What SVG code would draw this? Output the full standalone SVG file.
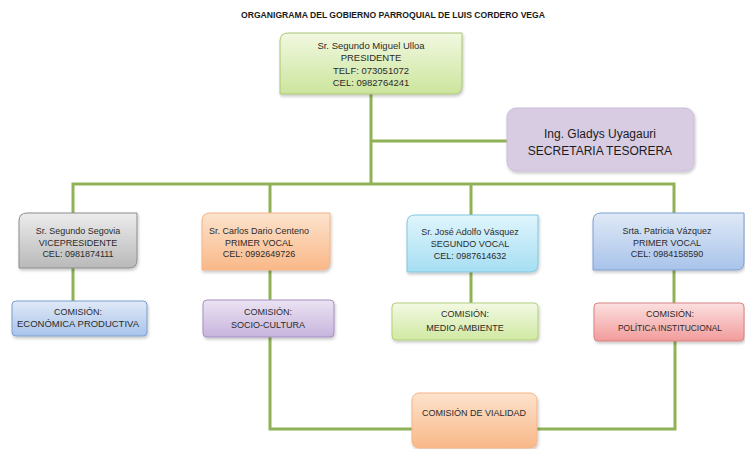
<svg xmlns="http://www.w3.org/2000/svg" width="745" height="449" viewBox="0 0 745 449">
<defs>
<linearGradient id="gGreen" x1="0" y1="0" x2="0" y2="1"><stop offset="0" stop-color="#f1f8e0"/><stop offset="1" stop-color="#cce59d"/></linearGradient>
<linearGradient id="gGray" x1="0" y1="0" x2="0" y2="1"><stop offset="0" stop-color="#ececec"/><stop offset="1" stop-color="#b9b9b9"/></linearGradient>
<linearGradient id="gOrange" x1="0" y1="0" x2="0" y2="1"><stop offset="0" stop-color="#fde3cd"/><stop offset="1" stop-color="#f9b888"/></linearGradient>
<linearGradient id="gCyan" x1="0" y1="0" x2="0" y2="1"><stop offset="0" stop-color="#e0f5fc"/><stop offset="1" stop-color="#a6def3"/></linearGradient>
<linearGradient id="gBlue" x1="0" y1="0" x2="0" y2="1"><stop offset="0" stop-color="#e0e9f7"/><stop offset="1" stop-color="#a8c3ea"/></linearGradient>
<linearGradient id="gPurple" x1="0" y1="0" x2="0" y2="1"><stop offset="0" stop-color="#ebe3f2"/><stop offset="1" stop-color="#c7b4dd"/></linearGradient>
<linearGradient id="gLime" x1="0" y1="0" x2="0" y2="1"><stop offset="0" stop-color="#f3f9e3"/><stop offset="1" stop-color="#d0e9a2"/></linearGradient>
<linearGradient id="gRed" x1="0" y1="0" x2="0" y2="1"><stop offset="0" stop-color="#fce0e0"/><stop offset="1" stop-color="#f19c9b"/></linearGradient>
<filter id="sh" x="-10%" y="-10%" width="125%" height="135%"><feDropShadow dx="1" dy="2" stdDeviation="1.5" flood-color="#000" flood-opacity="0.22"/></filter>
</defs>
<style>
text{font-family:"Liberation Sans",Arial,sans-serif;fill:#2b2b2b;text-anchor:middle}
.t{font-size:9px}
.tp{font-size:9.5px}
.ts{font-size:12px;fill:#1c1c1c}
.title{font-size:8.5px;font-weight:bold;fill:#1a1a1a}
.box{filter:url(#sh);stroke-width:1}
.conn{fill:none;stroke:#8fb257;stroke-width:3;stroke-linejoin:miter}
</style>
<rect width="745" height="449" fill="#ffffff"/>
<text class="title" x="393" y="18" textLength="304" lengthAdjust="spacingAndGlyphs">ORGANIGRAMA DEL GOBIERNO PARROQUIAL DE LUIS CORDERO VEGA</text>
<g id="connectors">
<path class="conn" d="M371,94 V184"/>
<path class="conn" d="M371,141 H507"/>
<path class="conn" d="M73,213 V184 H674 V213"/>
<path class="conn" d="M270,184 V213"/>
<path class="conn" d="M471,184 V215"/>
<path class="conn" d="M73,268 V301"/>
<path class="conn" d="M270,270 V300"/>
<path class="conn" d="M471,272 V303"/>
<path class="conn" d="M674,270 V303"/>
<path class="conn" d="M270,337 V429 H412"/>
<path class="conn" d="M537,429 H675 V341"/>
</g>
<g id="presidente">
<path class="box" d="M280,41 Q280,33 288,33 H462 V86 Q462,94 454,94 H280 Z" fill="url(#gGreen)" stroke="#a9c672"/>
<text class="tp" x="371" y="49">Sr. Segundo Miguel Ulloa</text>
<text class="tp" x="371" y="61">PRESIDENTE</text>
<text class="tp" x="371" y="73.5">TELF: 073051072</text>
<text class="tp" x="371" y="86">CEL: 0982764241</text>
</g>
<g id="secretaria">
<rect class="box" x="507" y="108" width="187" height="63" rx="9" fill="#d8cce3" stroke="#cbbcd9"/>
<text class="ts" x="600" y="137.5">Ing. Gladys Uyagauri</text>
<text class="ts" x="600" y="154.5">SECRETARIA TESORERA</text>
</g>
<g id="vicepresidente">
<path class="box" d="M19,221 Q19,213 27,213 H137 V260 Q137,268 129,268 H19 Z" fill="url(#gGray)" stroke="#8c8c8c"/>
<text class="t" x="78" y="234">Sr. Segundo Segovia</text>
<text class="t" x="78" y="245.5">VICEPRESIDENTE</text>
<text class="t" x="78" y="257">CEL: 0981874111</text>
</g>
<g id="vocal1">
<path class="box" d="M202,221 Q202,213 210,213 H330 V262 Q330,270 322,270 H202 Z" fill="url(#gOrange)" stroke="#f5b487"/>
<text class="t" x="259" y="234">Sr. Carlos Dario Centeno</text>
<text class="t" x="259" y="245.5">PRIMER VOCAL</text>
<text class="t" x="259" y="257">CEL: 0992649726</text>
</g>
<g id="vocal2">
<path class="box" d="M407,223 Q407,215 415,215 H538 V264 Q538,272 530,272 H407 Z" fill="url(#gCyan)" stroke="#7fc8de"/>
<text class="t" x="470" y="234.5">Sr. José Adolfo Vásquez</text>
<text class="t" x="470" y="247">SEGUNDO VOCAL</text>
<text class="t" x="470" y="259">CEL: 0987614632</text>
</g>
<g id="vocal3">
<path class="box" d="M593,221 Q593,213 601,213 H744 V262 Q744,270 736,270 H593 Z" fill="url(#gBlue)" stroke="#7c9fd0"/>
<text class="t" x="667" y="234">Srta. Patricia Vázquez</text>
<text class="t" x="667" y="245.5">PRIMER VOCAL</text>
<text class="t" x="667" y="257">CEL: 0984158590</text>
</g>
<g id="comision-economica">
<rect class="box" x="12" y="301" width="135" height="35" rx="4" fill="url(#gBlue)" stroke="#7c9fd0"/>
<text class="t" x="78" y="315">COMISIÓN:</text>
<text class="t" x="78" y="327" textLength="122" lengthAdjust="spacingAndGlyphs">ECONÓMICA PRODUCTIVA</text>
</g>
<g id="comision-socio">
<rect class="box" x="203" y="300" width="131" height="37" rx="4" fill="url(#gPurple)" stroke="#a590c2"/>
<text class="t" x="268" y="315">COMISIÓN:</text>
<text class="t" x="268" y="328">SOCIO-CULTURA</text>
</g>
<g id="comision-medio">
<rect class="box" x="392" y="303" width="146" height="37" rx="4" fill="url(#gLime)" stroke="#b2cf7c"/>
<text class="t" x="465" y="316.5">COMISIÓN:</text>
<text class="t" x="465" y="330.5">MEDIO AMBIENTE</text>
</g>
<g id="comision-politica">
<rect class="box" x="594" y="303" width="150" height="38" rx="4" fill="url(#gRed)" stroke="#d98382"/>
<text class="t" x="670" y="316.5">COMISIÓN:</text>
<text class="t" x="670" y="330.5" textLength="104" lengthAdjust="spacingAndGlyphs">POLÍTICA INSTITUCIONAL</text>
</g>
<g id="comision-vialidad">
<rect class="box" x="412" y="393" width="125" height="55" rx="7" fill="url(#gOrange)" stroke="#f5b487"/>
<text class="t" x="474" y="416">COMISIÓN DE VIALIDAD</text>
</g>
</svg>
